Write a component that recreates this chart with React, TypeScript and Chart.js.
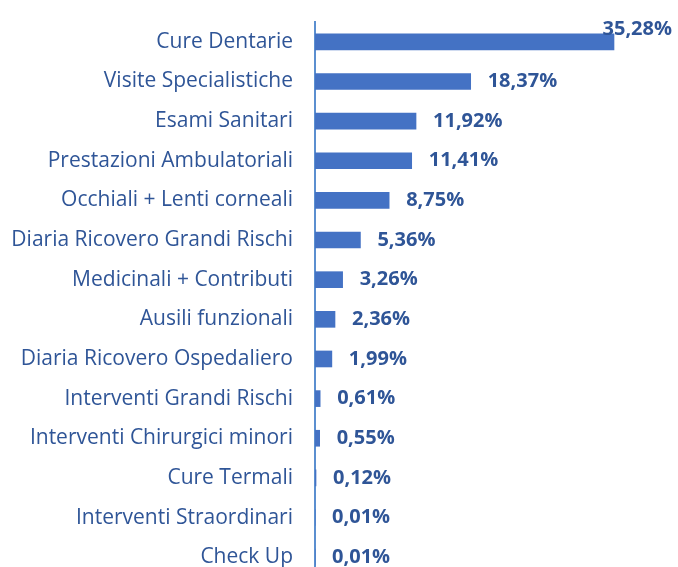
import React, { useEffect, useRef } from "react";
import { Chart, registerables } from "chart.js";

Chart.register(...registerables);

const categories = [
  "Cure Dentarie",
  "Visite Specialistiche",
  "Esami Sanitari",
  "Prestazioni Ambulatoriali",
  "Occhiali + Lenti corneali",
  "Diaria Ricovero Grandi Rischi",
  "Medicinali + Contributi",
  "Ausili funzionali",
  "Diaria Ricovero Ospedaliero",
  "Interventi Grandi Rischi",
  "Interventi Chirurgici minori",
  "Cure Termali",
  "Interventi Straordinari",
  "Check Up",
];

const values = [35.28, 18.37, 11.92, 11.41, 8.75, 5.36, 3.26, 2.36, 1.99, 0.61, 0.55, 0.12, 0.01, 0.01];

const FONT = "'Open Sans', sans-serif";
const TEXT_COLOR = "#2F5597";
const BAR_COLOR = "#4472C4";

const fmt = (v: number) => v.toFixed(2).replace(".", ",") + "%";

const valueLabelPlugin = {
  id: "valueLabels",
  afterDatasetsDraw(chart: any) {
    const ctx = chart.ctx;
    const meta = chart.getDatasetMeta(0);
    ctx.save();
    ctx.font = `bold 20px ${FONT}`;
    ctx.fillStyle = TEXT_COLOR;
    ctx.textBaseline = "middle";
    ctx.textAlign = "left";
    meta.data.forEach((bar: any, i: number) => {
      const text = fmt(values[i]);
      const w = ctx.measureText(text).width;
      let x = bar.x + 17;
      let y = bar.y;
      if (x + w > chart.width - 6) {
        x = chart.width - 6 - w;
        y = bar.y - 13;
      }
      ctx.fillText(text, x, y);
    });
    ctx.restore();
  },
};

export default function App() {
  const ref = useRef<HTMLCanvasElement>(null);
  useEffect(() => {
    const chart = new Chart(ref.current!, {
      type: "bar",
      data: {
        labels: categories,
        datasets: [
          {
            data: values,
            backgroundColor: BAR_COLOR,
            barThickness: 16,
          },
        ],
      },
      options: {
        indexAxis: "y",
        animation: false,
        responsive: false,
        maintainAspectRatio: false,
        layout: { padding: { top: 22, bottom: 13, right: 24, left: 0 } },
        plugins: { legend: { display: false }, tooltip: { enabled: false } },
        scales: {
          x: {
            display: false,
            min: 0,
            max: 40,
          },
          y: {
            grid: { display: false, drawTicks: false },
            border: { display: true, color: "#5B8FD0", width: 2 },
            ticks: {
              color: TEXT_COLOR,
              font: { family: FONT, size: 21 },
              padding: 22,
            },
            afterFit(scale: any) {
              scale.width = 315;
              scale.paddingTop = 0;
              scale.paddingBottom = 0;
            },
          },
        },
      },
      plugins: [valueLabelPlugin],
    });
    return () => chart.destroy();
  }, []);
  return (
    <div style={{ position: "absolute", left: 0, top: 0, width: 678, height: 567, overflow: "hidden" }}>
      <canvas ref={ref} width={678} height={590} />
    </div>
  );
}
